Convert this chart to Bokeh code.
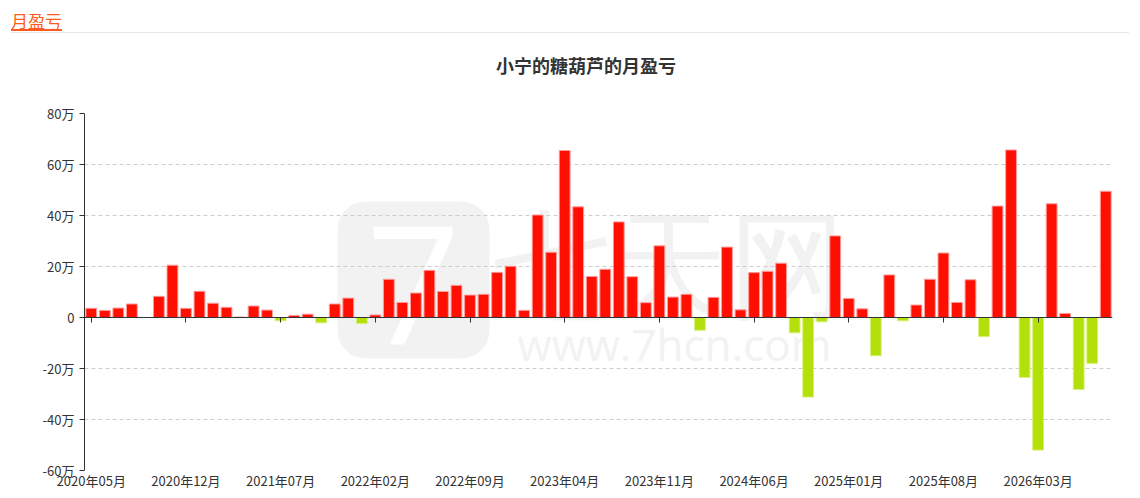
import pandas as pd
from bokeh.embed import file_html
from bokeh.layouts import column
from bokeh.models import BoxAnnotation
from bokeh.models import ColumnDataSource
from bokeh.models import Div
from bokeh.models import FixedTicker
from bokeh.models import Label
from bokeh.models import LinearAxis
from bokeh.models import Range1d
from bokeh.plotting import figure
from bokeh.resources import INLINE

FONT = "Noto Sans CJK SC"

# Monthly profit / loss, in 万 (10k), from 2020-05 onwards.
first_month = "2020-05"
monthly_pnl = [
    3.6, 2.8, 3.7, 5.3, 0.0, 8.3, 20.5, 3.6, 10.3, 5.6,
    4.0, 0.2, 4.5, 2.9, -1.3, 0.8, 1.3, -2.1, 5.3, 7.6,
    -2.4, 1.0, 15.0, 5.9, 9.6, 18.5, 10.2, 12.6, 8.8, 9.1,
    17.7, 20.1, 2.8, 40.2, 25.6, 65.5, 43.4, 16.1, 18.9, 37.5,
    16.0, 5.8, 28.1, 8.0, 9.1, -5.0, 7.9, 27.6, 3.0, 17.6,
    18.1, 21.3, -6.0, -31.2, -1.7, 32.0, 7.5, 3.4, -15.0, 16.7,
    -1.3, 4.9, 15.0, 25.3, 5.9, 14.8, -7.5, 43.7, 65.7, -23.5,
    -52.0, 44.6, 1.6, -28.2, -18.0, 49.5,
]
months = [
    period.strftime("%Y年%m月")
    for period in pd.period_range(first_month, periods=len(monthly_pnl), freq="M")
]
label_every = 7
y_ticks = [-60, -40, -20, 0, 20, 40, 60, 80]
y_tick_labels = ["-60万", "-40万", "-20万", "0", "20万", "40万", "60万", "80万"]

chart_title = "小宁的糖葫芦的月盈亏"
section_title = "月盈亏"

source = ColumnDataSource(data={
    "x": list(range(len(monthly_pnl))),
    "month": months,
    "pnl": monthly_pnl,
    "fill": ["#ff0f00" if v >= 0 else "#b3df0a" for v in monthly_pnl],
    "edge": ["#ff9c9c" if v >= 0 else "#d8f07c" for v in monthly_pnl],
})

p = figure(
    width=1124,
    height=406,
    x_range=Range1d(-0.5, len(monthly_pnl) - 0.5),
    y_range=Range1d(y_ticks[0], y_ticks[-1]),
    output_backend="svg",
    toolbar_location=None,
    min_border_left=84,
    min_border_right=12,
    min_border_top=27,
    min_border_bottom=21,
)
p.outline_line_color = None
p.background_fill_color = "white"

# Watermark, behind everything.
logo_box = BoxAnnotation(
    left=253, right=405, top=269, bottom=112,
    left_units="screen", right_units="screen", top_units="screen", bottom_units="screen",
    fill_color="#f2f2f2", fill_alpha=1.0, line_color=None, border_radius=28,
    level="image",
)
p.add_layout(logo_box)
for text, x, y, size, color in [
    ("7", 329, 185, "165px", "white"),
    ("七天网", 585, 209, "118px", "#f2f2f2"),
    ("www.7hcn.com", 590, 127, "44px", "#f2f2f2"),
]:
    p.add_layout(Label(
        x=x, y=y, x_units="screen", y_units="screen", text=text,
        text_align="center", text_baseline="middle", text_font="Open Sans",
        text_font_size=size, text_color=color, level="image",
    ))

p.vbar(
    x="x", top="pnl", bottom=0, width=0.8, source=source,
    fill_color="fill", line_color="edge", line_width=1,
)

label_ticks = list(range(0, len(months), label_every))

# Month labels at the bottom, without line or ticks.
xaxis = p.xaxis[0]
xaxis.ticker = FixedTicker(ticks=label_ticks)
xaxis.major_label_overrides = {i: months[i] for i in label_ticks}
xaxis.axis_line_color = None
xaxis.major_tick_line_color = None
xaxis.minor_tick_line_color = None
xaxis.major_tick_in = 0
xaxis.major_tick_out = 0
xaxis.major_label_standoff = 0
xaxis.major_label_text_font = FONT
xaxis.major_label_text_font_size = "13px"
xaxis.major_label_text_color = "#333333"

# Axis line with ticks on the zero value.
zero_axis = LinearAxis(
    fixed_location=0,
    ticker=FixedTicker(ticks=label_ticks),
    major_label_overrides={i: "" for i in label_ticks},
    axis_line_color="#333333",
    major_tick_line_color="#333333",
    major_tick_in=0,
    major_tick_out=5,
    minor_tick_line_color=None,
)
p.add_layout(zero_axis, "below")

yaxis = p.yaxis[0]
yaxis.ticker = FixedTicker(ticks=y_ticks)
yaxis.major_label_overrides = dict(zip(y_ticks, y_tick_labels))
yaxis.axis_line_color = "#333333"
yaxis.major_tick_line_color = "#333333"
yaxis.major_tick_in = 0
yaxis.major_tick_out = 5
yaxis.minor_tick_line_color = None
yaxis.major_label_standoff = 5
yaxis.major_label_text_font = FONT
yaxis.major_label_text_font_size = "13px"
yaxis.major_label_text_color = "#333333"

p.xgrid.visible = False
p.ygrid.grid_line_color = "#cccccc"
p.ygrid.grid_line_dash = "4 3"

header = Div(
    width=1124,
    height=76,
    text=(
        f"<div style=\"position:relative;width:1124px;height:76px;overflow:hidden;"
        f"font-family:'{FONT}';\">"
        '<div style="position:absolute;left:6px;top:0;width:1118px;height:28px;'
        'border-bottom:1px solid #e8e8e8;"></div>'
        '<div style="position:absolute;left:6px;top:6px;height:20px;line-height:20px;'
        'font-size:17px;color:#ff5a1f;border-bottom:2px solid #ff5a1f;">'
        f"{section_title}</div>"
        '<div style="position:absolute;left:381px;top:48px;width:400px;line-height:24px;'
        'text-align:center;font-size:18px;font-weight:bold;color:#333333;">'
        f"{chart_title}</div>"
        "</div>"
    ),
)

layout = column(header, p)
open("out.html", "w").write(file_html(layout, INLINE))
